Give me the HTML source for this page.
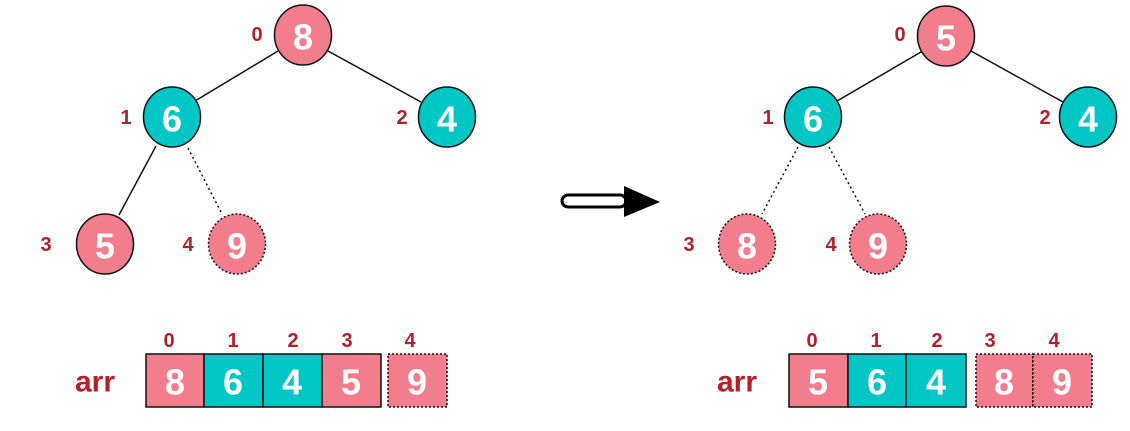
<!DOCTYPE html>
<html><head><meta charset="utf-8"><style>
html,body{margin:0;padding:0;background:#fff;}
svg{display:block;}
.n{font-family:"Liberation Sans",sans-serif;font-weight:bold;font-size:36px;fill:#fff;text-anchor:middle;dominant-baseline:central;}
.l{font-family:"Liberation Sans",sans-serif;font-weight:bold;font-size:20px;fill:#b3202a;text-anchor:middle;dominant-baseline:central;}
.a{font-family:"Liberation Sans",sans-serif;font-weight:bold;font-size:30px;fill:#b3202a;text-anchor:middle;dominant-baseline:central;}
</style></head><body>
<svg width="1130" height="431" viewBox="0 0 1130 431" xmlns="http://www.w3.org/2000/svg">
<g stroke="#111" stroke-width="1.5" fill="none">
<line x1="278" y1="51" x2="195" y2="101"/>
<line x1="328" y1="51" x2="421" y2="102"/>
<line x1="156" y1="146" x2="119" y2="215"/>
<line x1="188" y1="148" x2="222" y2="214" stroke-dasharray="2,3"/>
<line x1="921" y1="52" x2="837" y2="101"/>
<line x1="971" y1="51" x2="1063" y2="102"/>
<line x1="798" y1="147" x2="762" y2="214" stroke-dasharray="2,3"/>
<line x1="829" y1="147" x2="865" y2="214" stroke-dasharray="2,3"/>
</g>
<g stroke="#111" stroke-width="1.5">
<ellipse cx="303" cy="35" rx="28.5" ry="30" fill="#f27d8d"/>
<ellipse cx="172" cy="117" rx="28.5" ry="30" fill="#00c6c6"/>
<ellipse cx="447" cy="117" rx="28.5" ry="30" fill="#00c6c6"/>
<ellipse cx="105" cy="244" rx="28.5" ry="30" fill="#f27d8d"/>
<ellipse cx="237" cy="244" rx="28.5" ry="30" fill="#f27d8d" stroke-dasharray="2,2"/>
<ellipse cx="946" cy="36" rx="28.5" ry="30" fill="#f27d8d"/>
<ellipse cx="813" cy="117" rx="28.5" ry="30" fill="#00c6c6"/>
<ellipse cx="1088" cy="117" rx="28.5" ry="30" fill="#00c6c6"/>
<ellipse cx="747" cy="244" rx="28.5" ry="30" fill="#f27d8d" stroke-dasharray="2,2"/>
<ellipse cx="878" cy="244" rx="28.5" ry="30" fill="#f27d8d" stroke-dasharray="2,2"/>
</g>
<text class="n" x="303" y="37">8</text>
<text class="n" x="172" y="119">6</text>
<text class="n" x="447" y="119">4</text>
<text class="n" x="105" y="246">5</text>
<text class="n" x="237" y="246">9</text>
<text class="n" x="946" y="38">5</text>
<text class="n" x="813" y="119">6</text>
<text class="n" x="1088" y="119">4</text>
<text class="n" x="747" y="246">8</text>
<text class="n" x="878" y="246">9</text>
<text class="l" x="257" y="35">0</text>
<text class="l" x="126" y="118">1</text>
<text class="l" x="402" y="118">2</text>
<text class="l" x="46" y="245">3</text>
<text class="l" x="188" y="245">4</text>
<text class="l" x="900" y="35">0</text>
<text class="l" x="768" y="118">1</text>
<text class="l" x="1045" y="118">2</text>
<text class="l" x="689" y="245">3</text>
<text class="l" x="831" y="245">4</text>
<rect x="562" y="195" width="64" height="12" rx="6" fill="#fff" stroke="#000" stroke-width="3"/>
<polygon points="624,186 660,202 624,217" fill="#000"/>
<g stroke="#111" stroke-width="1.5">
<rect x="146" y="354" width="58" height="53" fill="#f27d8d"/>
<rect x="204" y="354" width="59" height="53" fill="#00c6c6"/>
<rect x="263" y="354" width="59" height="53" fill="#00c6c6"/>
<rect x="322" y="354" width="59" height="53" fill="#f27d8d"/>
<rect x="388" y="354" width="59" height="53" fill="#f27d8d" stroke-dasharray="2,2"/>
<rect x="789" y="354" width="59" height="53" fill="#f27d8d"/>
<rect x="848" y="354" width="58" height="53" fill="#00c6c6"/>
<rect x="906" y="354" width="60" height="53" fill="#00c6c6"/>
<rect x="976" y="354" width="57" height="53" fill="#f27d8d" stroke-dasharray="2,2"/>
<rect x="1033" y="354" width="59" height="53" fill="#f27d8d" stroke-dasharray="2,2"/>
</g>
<text class="n" x="175" y="382">8</text>
<text class="n" x="233" y="382">6</text>
<text class="n" x="292" y="382">4</text>
<text class="n" x="351" y="382">5</text>
<text class="n" x="417" y="382">9</text>
<text class="n" x="818" y="382">5</text>
<text class="n" x="877" y="382">6</text>
<text class="n" x="936" y="382">4</text>
<text class="n" x="1004" y="382">8</text>
<text class="n" x="1062" y="382">9</text>
<text class="l" x="169" y="341">0</text>
<text class="l" x="233" y="341">1</text>
<text class="l" x="293" y="341">2</text>
<text class="l" x="347" y="341">3</text>
<text class="l" x="410" y="341">4</text>
<text class="l" x="812" y="341">0</text>
<text class="l" x="876" y="341">1</text>
<text class="l" x="937" y="341">2</text>
<text class="l" x="990" y="341">3</text>
<text class="l" x="1054" y="341">4</text>
<text class="a" x="95" y="382">arr</text>
<text class="a" x="737" y="382">arr</text>
</svg>
</body></html>
